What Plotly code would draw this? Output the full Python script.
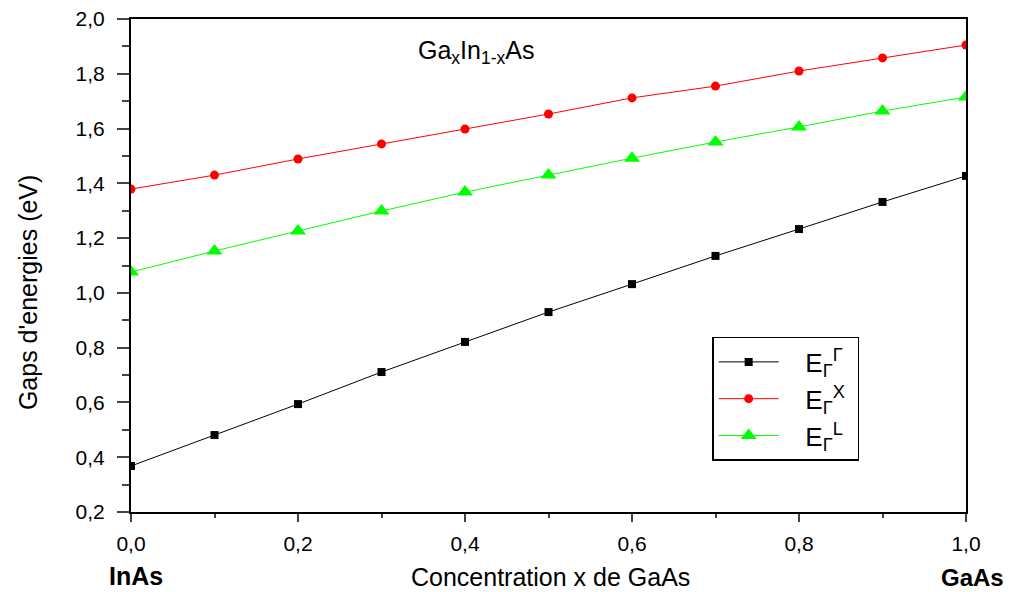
import plotly.graph_objects as go

x_conc = [0.0, 0.1, 0.2, 0.3, 0.4, 0.5, 0.6, 0.7, 0.8, 0.9, 1.0]
e_gamma = [0.368, 0.481, 0.594, 0.711, 0.821, 0.930, 1.032, 1.135, 1.233, 1.332, 1.427]
e_x = [1.379, 1.430, 1.489, 1.544, 1.598, 1.653, 1.712, 1.755, 1.810, 1.858, 1.905]
e_l = [1.076, 1.153, 1.226, 1.299, 1.368, 1.430, 1.492, 1.551, 1.606, 1.664, 1.715]

FONT = "Liberation Sans, Arial, sans-serif"
NB = "\u00a0"

fig = go.Figure()
fig.add_trace(go.Scatter(x=x_conc, y=e_gamma, mode="lines+markers",
                         name=NB * 3 + "E<sub>Γ</sub><sup>Γ</sup>" + NB,
                         line=dict(color="black", width=1),
                         marker=dict(symbol="square", size=8, color="black")))
fig.add_trace(go.Scatter(x=x_conc, y=e_x, mode="lines+markers",
                         name=NB * 3 + "E<sub>Γ</sub><sup>X</sup>" + NB,
                         line=dict(color="red", width=1),
                         marker=dict(symbol="circle", size=9, color="red")))
fig.add_trace(go.Scatter(x=x_conc, y=e_l, mode="lines+markers",
                         name=NB * 3 + "E<sub>Γ</sub><sup>L</sup>" + NB,
                         line=dict(color="#00ff00", width=1),
                         marker=dict(symbol="triangle-up", size=14, color="#00ff00")))

fig.update_layout(
    width=1021, height=592,
    margin=dict(l=131, r=55, t=19, b=80),
    paper_bgcolor="white", plot_bgcolor="white",
    separators=",.",
    font=dict(family=FONT, color="black"),
    showlegend=True,
    legend=dict(x=0.696, y=0.355, xanchor="left", yanchor="top",
                bordercolor="black", borderwidth=1.5, bgcolor="white",
                font=dict(size=26, family=FONT), itemwidth=60,
                tracegroupgap=0),
    xaxis=dict(range=[0, 1], tickvals=[0, 0.2, 0.4, 0.6, 0.8, 1.0],
               tickformat=".1f", ticks="outside", ticklen=8, tickwidth=2,
               showline=True, linewidth=2, linecolor="black", mirror=True,
               showgrid=False, zeroline=False, ticklabelstandoff=4, automargin=False,
               tickfont=dict(size=21, family=FONT),
               minor=dict(ticks="outside", ticklen=4, tickwidth=2, dtick=0.1, showgrid=False)),
    yaxis=dict(range=[0.2, 2.0], dtick=0.2, tick0=0.2,
               tickformat=".1f", ticks="outside", ticklen=12, tickwidth=2,
               showline=True, linewidth=2, linecolor="black", mirror=True,
               showgrid=False, zeroline=False, ticklabelstandoff=8, automargin=False,
               tickfont=dict(size=21, family=FONT),
               minor=dict(ticks="outside", ticklen=7, tickwidth=2, dtick=0.1, showgrid=False)),
)

# axis titles placed as annotations for precise positioning
fig.add_annotation(x=-0.1234, y=0.446, xref="paper", yref="paper",
                   text="Gaps d'energies (eV)", showarrow=False, textangle=-90,
                   font=dict(size=25, family=FONT), xanchor="center", yanchor="middle")
fig.add_annotation(x=0.502, y=-0.132, xref="paper", yref="paper",
                   text="Concentration x de GaAs", showarrow=False,
                   font=dict(size=25, family=FONT), xanchor="center", yanchor="middle")

fig.add_annotation(x=0.413, y=0.933, xref="paper", yref="paper",
                   text="Ga<sub>x</sub>In<sub>1-x</sub>As", showarrow=False,
                   font=dict(size=25, family=FONT), xanchor="center", yanchor="middle")
fig.add_annotation(x=0.006, y=-0.130, xref="paper", yref="paper",
                   text="<b>InAs</b>", showarrow=False,
                   font=dict(size=25, family=FONT), xanchor="center", yanchor="middle")
fig.add_annotation(x=1.008, y=-0.132, xref="paper", yref="paper",
                   text="<b>GaAs</b>", showarrow=False,
                   font=dict(size=24, family=FONT), xanchor="center", yanchor="middle")

fig.write_html("out.html")
